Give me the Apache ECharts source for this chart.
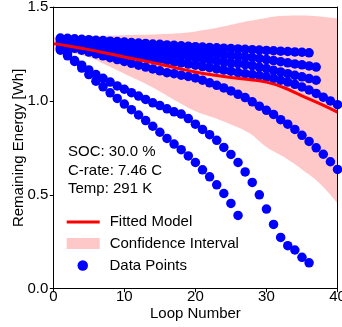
<!DOCTYPE html>
<html>
<head>
<meta charset="utf-8">
<script src="https://cdn.jsdelivr.net/npm/echarts@6/dist/echarts.min.js"></script>
<style>
html,body{margin:0;padding:0;background:#fff;}
#c{width:342px;height:327px;}
</style>
</head>
<body>
<div id="c"></div>
<script>
// ---- data ----
var xTicks = [0, 10, 20, 30, 40];
var yTicks = ['0.0', '0.5', '1.0', '1.5'];

var serA = [1.335,1.333,1.331,1.328,1.326,1.323,1.321,1.318,1.316,1.313,1.311,1.308,1.306,1.303,1.301,1.298,1.296,1.293,1.291,1.289,1.287,1.285,1.283,1.281,1.279,1.277,1.275,1.273,1.271,1.269,1.267,1.265,1.263,1.261,1.259,1.256];
var serB = [1.330,1.327,1.323,1.320,1.316,1.313,1.309,1.306,1.302,1.298,1.295,1.291,1.288,1.284,1.280,1.276,1.273,1.269,1.265,1.261,1.257,1.253,1.250,1.246,1.242,1.238,1.235,1.231,1.226,1.220,1.215,1.209,1.203,1.197,1.192,1.186,1.180];
var serC = [1.325,1.320,1.315,1.310,1.305,1.300,1.294,1.289,1.284,1.279,1.274,1.269,1.264,1.259,1.254,1.249,1.244,1.239,1.234,1.229,1.223,1.218,1.213,1.208,1.203,1.198,1.193,1.188,1.180,1.172,1.163,1.154,1.145,1.136,1.128,1.119,1.110];
var serD = [1.315,1.308,1.301,1.294,1.288,1.281,1.274,1.267,1.260,1.254,1.247,1.240,1.234,1.228,1.221,1.215,1.208,1.202,1.196,1.190,1.183,1.177,1.170,1.164,1.158,1.151,1.145,1.140,1.135,1.128,1.120,1.110,1.100,1.088,1.074,1.058,1.040,1.020,1.000,0.980];
var serE = [1.300,1.290,1.280,1.270,1.260,1.250,1.240,1.230,1.220,1.210,1.200,1.190,1.180,1.170,1.160,1.150,1.145,1.137,1.130,1.122,1.110,1.096,1.083,1.069,1.053,1.035,1.018,0.995,0.972,0.950,0.928,0.900,0.876,0.848,0.817,0.784,0.750,0.716,0.676,0.635];
var serF = [1.270,1.240,1.215,1.190,1.165,1.140,1.120,1.100,1.080,1.062,1.044,1.026,1.008,0.990,0.975,0.958,0.942,0.930,0.906,0.876,0.848,0.820,0.790,0.752,0.715,0.672,0.622,0.566,0.500,0.424,0.342,0.273,0.229,0.206,0.167,0.138];
var serG = [1.280,1.250,1.210,1.175,1.140,1.105,1.075,1.043,1.013,0.983,0.953,0.925,0.895,0.865,0.833,0.800,0.770,0.740,0.707,0.672,0.633,0.596,0.553,0.507,0.454,0.390];

var fitX  = [0, 2.5, 5, 7.5, 10, 12.5, 15, 17.5, 20, 22.5, 25, 27.5, 30, 32.5, 35, 37.5, 40];
var fitY  = [1.305, 1.290, 1.273, 1.254, 1.234, 1.215, 1.195, 1.174, 1.154, 1.138, 1.125, 1.114, 1.100, 1.070, 1.027, 0.985, 0.940];
var ciLow = [1.270, 1.255, 1.232, 1.190, 1.145, 1.100, 1.050, 0.995, 0.945, 0.912, 0.875, 0.830, 0.755, 0.700, 0.635, 0.560, 0.454];
var ciUp  = [1.340, 1.342, 1.345, 1.347, 1.350, 1.352, 1.355, 1.360, 1.370, 1.385, 1.405, 1.425, 1.442, 1.453, 1.455, 1.449, 1.438];

var annotation = ['SOC: 30.0 %', 'C-rate: 7.46 C', 'Temp: 291 K'];
var legendNames = ['Fitted Model', 'Confidence Interval', 'Data Points'];

// ---- build ----
var FONT = 'Liberation Sans, Arial, sans-serif';
var PINK = '#ffc8c8';
function seq(arr) { return arr.map(function (v, i) { return [i + 1, v]; }); }
var points = [].concat(seq(serA), seq(serB), seq(serC), seq(serD), seq(serE), seq(serF), seq(serG));
var lowData = fitX.map(function (x, i) { return [x, ciLow[i]]; });
var upData = fitX.map(function (x, i) { return [x, ciUp[i]]; });
var fitData = fitX.map(function (x, i) { return [x, fitY[i]]; });

var chart = echarts.init(document.getElementById('c'), null, {renderer: 'canvas'});
function lg(name, icon, left, w, h, top, color, pad) {
  return {
    data: [{name: name, icon: icon, itemStyle: {color: color, opacity: 1, borderWidth: 0}}],
    left: left, top: top, itemWidth: w, itemHeight: h,
    orient: 'vertical', padding: 0, selectedMode: false,
    textStyle: {fontFamily: FONT, fontSize: 15, color: '#000', padding: [0, 0, 0, pad]}
  };
}
var frameAxis = {
  show: true, z: 10,
  axisLine: {show: true, onZero: false, lineStyle: {color: '#000', width: 1}},
  axisTick: {show: false}, axisLabel: {show: false}, splitLine: {show: false}
};
chart.setOption({
  animation: false,
  grid: {left: 53.3, right: 4.5, top: 7, bottom: 38.3, show: false, outerBoundsMode: 'none', containLabel: false},
  xAxis: [{
    type: 'value', min: xTicks[0], max: xTicks[xTicks.length - 1], interval: 10, z: 10,
    name: 'Loop Number', nameLocation: 'middle', nameGap: 18, nameMoveOverlap: false,
    nameTextStyle: {fontFamily: FONT, fontSize: 15, color: '#000'},
    axisLine: {show: true, onZero: false, lineStyle: {color: '#000', width: 1}},
    axisTick: {show: true, inside: false, length: 3.5, lineStyle: {color: '#000'}},
    axisLabel: {fontFamily: FONT, fontSize: 15, color: '#000', margin: 1},
    splitLine: {show: false}
  }, Object.assign({type: 'value', position: 'top', min: 0, max: 40}, frameAxis)],
  yAxis: [{
    type: 'value', min: 0, max: 1.5, interval: 0.5, z: 10,
    name: 'Remaining Energy [Wh]', nameLocation: 'middle', nameGap: 27, nameMoveOverlap: false,
    nameTextStyle: {fontFamily: FONT, fontSize: 15, color: '#000'},
    axisLine: {show: true, onZero: false, lineStyle: {color: '#000', width: 1}},
    axisTick: {show: true, inside: false, length: 3.5, lineStyle: {color: '#000'}},
    axisLabel: {fontFamily: FONT, fontSize: 15, color: '#000', margin: 5,
      formatter: function (v) { return yTicks[Math.round(v / 0.5)]; }},
    splitLine: {show: false}
  }, Object.assign({type: 'value', position: 'right', min: 0, max: 1.5}, frameAxis)],
  legend: [
    lg(legendNames[0], 'rect', 66.7, 33, 3, 214.5, '#ff0000', 5),
    lg(legendNames[1], 'rect', 66.7, 33, 11, 236, PINK, 5),
    lg(legendNames[2], 'circle', 77.5, 10.5, 10.5, 258, '#0000ff', 16.5)
  ],
  graphic: [{
    type: 'text', left: 68, top: 143, z: 100,
    style: {text: annotation.join('\n'), font: '15px ' + FONT, fill: '#000', lineHeight: 18.5}
  }],
  series: [
    {name: legendNames[1], type: 'line', data: upData, symbol: 'none', smooth: true,
     lineStyle: {width: 0, color: PINK}, areaStyle: {color: PINK, opacity: 1, origin: 'start'},
     itemStyle: {color: PINK}, silent: true, z: 1},
    {name: 'ciLowMask', type: 'line', data: lowData, symbol: 'none', smooth: true,
     lineStyle: {width: 0, color: '#fff'}, areaStyle: {color: '#ffffff', opacity: 1, origin: 'start'},
     silent: true, z: 1.5},
    {name: legendNames[2], type: 'scatter', data: points, symbol: 'circle', symbolSize: 9.5,
     itemStyle: {color: '#0000ff', opacity: 1}, z: 2},
    {name: legendNames[0], type: 'line', data: fitData, symbol: 'none', smooth: true,
     lineStyle: {color: '#ff0000', width: 3}, itemStyle: {color: '#ff0000'}, z: 3}
  ]
});
</script>
</body>
</html>
